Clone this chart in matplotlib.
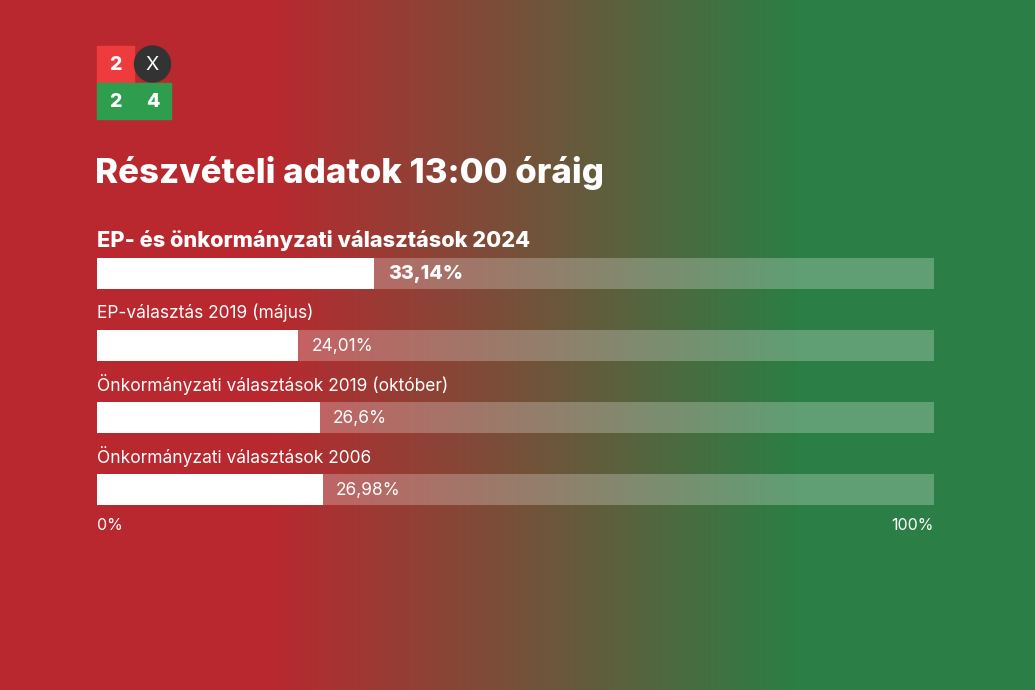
import matplotlib.pyplot as plt
import matplotlib.patches as mpatches
import numpy as np

# data
labels = [
    "EP- és önkormányzati választások 2024",
    "EP-választás 2019 (május)",
    "Önkormányzati választások 2019 (október)",
    "Önkormányzati választások 2006",
]
values = [33.14, 24.01, 26.6, 26.98]
value_texts = ["33,14%", "24,01%", "26,6%", "26,98%"]
title = "Részvételi adatok 13:00 óráig"

W, H = 1035, 690
FONT = "Inter"

fig = plt.figure(figsize=(W / 100, H / 100), dpi=100)

# background gradient red -> green
bg = fig.add_axes([0, 0, 1, 1])
red = np.array([185, 40, 47]) / 255
green = np.array([43, 126, 69]) / 255
x = np.linspace(0, 1, W)
t = np.clip((x - 0.26) / (0.77 - 0.26), 0, 1)
grad = red[None, :] * (1 - t[:, None]) + green[None, :] * t[:, None]
bg.imshow(grad[None, :, :], aspect="auto", extent=[0, W, H, 0])
bg.set_xlim(0, W)
bg.set_ylim(H, 0)
bg.axis("off")

# logo
bg.add_patch(mpatches.Rectangle((97, 46), 37, 37, color="#ee3b3d"))
bg.add_patch(mpatches.Rectangle((97, 83), 74, 36, color="#2e9e4e"))
bg.add_patch(mpatches.Circle((152.5, 64), 18, color="#333333"))
bg.text(115.5, 65, "2", color="white", fontsize=14, fontweight=800,
        family=FONT, ha="center", va="center")
bg.text(152.5, 65, "X", color="white", fontsize=14, family=FONT,
        ha="center", va="center")
bg.text(115.5, 102, "2", color="white", fontsize=14, fontweight=800,
        family=FONT, ha="center", va="center")
bg.text(152.5, 102, "4", color="white", fontsize=14, fontweight=800,
        family=FONT, ha="center", va="center")

# title
bg.text(95, 173, title, color="white", fontsize=25, fontweight=800,
        family=FONT, ha="left", va="center")

# bar axes: x 97..934 px, bars y 258..505 px
h = 31 / 72
left, right = 97 / W, 934 / W
top, bottom = 258 / H, 505 / H
ax = fig.add_axes([left, 1 - bottom, right - left, bottom - top])
ax.set_xlim(0, 100)
ax.set_ylim(len(values) - 1 + h / 2, -h / 2)
ax.axis("off")

ypos = np.arange(len(values))
ax.barh(ypos, [100] * len(values), height=h, color="white", alpha=0.25,
        linewidth=0)
ax.barh(ypos, values, height=h, color="white", linewidth=0)

for i, (lab, v, vt) in enumerate(zip(labels, values, value_texts)):
    bold = i == 0
    ax.text(0, i - h / 2 - 0.24, lab, color="white",
            fontsize=15.7 if bold else 12.5,
            fontweight=800 if bold else "normal",
            family=FONT, ha="left", va="center", clip_on=False)
    ax.text(v + 1.6, i + 0.01, vt, color="white",
            fontsize=14.1 if bold else 12.5,
            fontweight=800 if bold else "normal",
            family=FONT, ha="left", va="center")

ax.text(0, len(values) - 1 + h / 2 + 0.28, "0%", color="white", fontsize=11.5,
        family=FONT, ha="left", va="center", clip_on=False)
ax.text(100, len(values) - 1 + h / 2 + 0.28, "100%", color="white",
        fontsize=11.5, family=FONT, ha="right", va="center", clip_on=False)

fig.savefig("out.png", dpi=100)
